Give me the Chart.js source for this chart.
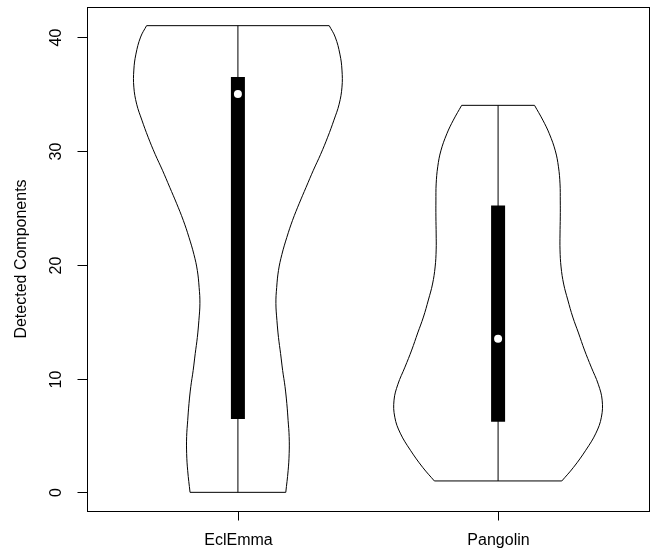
<!DOCTYPE html>
<html>
<head>
<meta charset="utf-8">
<script src="https://cdn.jsdelivr.net/npm/chart.js@4"></script>
<style>
    html, body { margin: 0; padding: 0; background: #fff; }
    canvas { display: block; }
</style>
</head>
<body>
<canvas id="grafico" width="653" height="550"></canvas>
<script>
// Datos (vioplot de R)
const categorias = ["EclEmma", "Pangolin"];
const ticksY = [0, 10, 20, 30, 40];
const tituloY = "Detected Components";

// Perfil de cada violín: valores (de abajo a arriba) y semiancho en unidades del eje x
const valoresEcl = [0, 1.9, 3.4, 4.9, 6.3, 7.8, 9.3, 10.7, 12.2, 13.6, 15.1, 16.6, 18.0, 19.5, 20.9,
                    22.4, 23.9, 25.4, 26.8, 28.3, 29.7, 31.2, 32.7, 34.1, 35.6, 37.1, 38.5, 40.0, 41];
const anchosEcl  = [0.184, 0.193, 0.197, 0.197, 0.193, 0.188, 0.181, 0.172, 0.164, 0.156, 0.150, 0.146, 0.149, 0.156, 0.169,
                    0.188, 0.210, 0.236, 0.262, 0.290, 0.318, 0.345, 0.369, 0.389, 0.400, 0.400, 0.392, 0.374, 0.351];

const valoresPan = [1, 2.2, 3.7, 5.2, 6.6, 8.1, 9.5, 11.0, 12.5, 14.0, 15.4, 16.9, 18.3, 19.8, 21.3,
                    22.7, 24.2, 25.6, 27.1, 28.6, 30.0, 31.5, 32.7, 34];
const anchosPan  = [0.245, 0.290, 0.337, 0.376, 0.397, 0.400, 0.385, 0.358, 0.332, 0.309, 0.287, 0.268, 0.252, 0.242, 0.238,
                    0.238, 0.239, 0.239, 0.238, 0.232, 0.220, 0.197, 0.172, 0.140];

const minimos  = [0, 1];
const maximos  = [41, 34];
const cuartil1 = [6.45, 6.2];
const cuartil3 = [36.5, 25.2];
const medianas = [35, 13.5];

const perfiles = [
    { valores: valoresEcl, anchos: anchosEcl },
    { valores: valoresPan, anchos: anchosPan },
];

const FUENTE = "16px 'Liberation Sans', Arial, Helvetica, sans-serif";

function linea(data, extra) {
    return Object.assign({
        data,
        showLine: true,
        borderColor: "#000",
        borderWidth: 1,
        pointRadius: 0,
        tension: 0,
        fill: false,
    }, extra || {});
}

const datasets = [];
perfiles.forEach((p, i) => {
    const c = i + 1;
    const n = p.valores.length;
    // contorno izquierdo y derecho
    datasets.push(linea(p.valores.map((v, k) => ({ x: c - p.anchos[k], y: v })), { tension: 0.4, order: 3 }));
    datasets.push(linea(p.valores.map((v, k) => ({ x: c + p.anchos[k], y: v })), { tension: 0.4, order: 3 }));
    // tapas
    datasets.push(linea([{ x: c - p.anchos[0], y: p.valores[0] }, { x: c + p.anchos[0], y: p.valores[0] }], { order: 3 }));
    datasets.push(linea([{ x: c - p.anchos[n - 1], y: p.valores[n - 1] }, { x: c + p.anchos[n - 1], y: p.valores[n - 1] }], { order: 3 }));
    // bigote
    datasets.push(linea([{ x: c, y: minimos[i] }, { x: c, y: maximos[i] }], { order: 2 }));
    // caja
    datasets.push(linea([{ x: c, y: cuartil1[i] }, { x: c, y: cuartil3[i] }], { borderWidth: 14, borderCapStyle: "butt", order: 1 }));
    // mediana
    datasets.push({
        data: [{ x: c, y: medianas[i] }],
        showLine: false,
        pointRadius: 4,
        pointBackgroundColor: "#fff",
        pointBorderWidth: 0,
        order: 0,
    });
});

// Ejes al estilo de R: caja completa, marcas hacia fuera, etiquetas paralelas al eje
const ejesR = {
    id: "ejesR",
    afterDraw(chart) {
        const { ctx, chartArea: a, scales: { x, y } } = chart;
        ctx.save();
        ctx.strokeStyle = "#000";
        ctx.fillStyle = "#000";
        ctx.lineWidth = 1;
        ctx.font = FUENTE;

        const L = Math.round(a.left) + 0.5, R = Math.round(a.right) + 0.5;
        const T = Math.round(a.top) + 0.5, B = Math.round(a.bottom) + 0.5;
        ctx.strokeRect(L, T, R - L, B - T);

        ctx.textAlign = "center";
        ctx.textBaseline = "middle";

        ticksY.forEach((t) => {
            const py = Math.round(y.getPixelForValue(t)) + 0.5;
            ctx.beginPath();
            ctx.moveTo(L - 10, py);
            ctx.lineTo(L, py);
            ctx.stroke();
            ctx.save();
            ctx.translate(L - 31, py);
            ctx.rotate(-Math.PI / 2);
            ctx.fillText(String(t), 0, 0);
            ctx.restore();
        });

        categorias.forEach((cat, i) => {
            const px = Math.round(x.getPixelForValue(i + 1)) + 0.5;
            ctx.beginPath();
            ctx.moveTo(px, B);
            ctx.lineTo(px, B + 9);
            ctx.stroke();
            ctx.fillText(cat, px, B + 29);
        });

        ctx.save();
        ctx.translate(22, (a.top + a.bottom) / 2);
        ctx.rotate(-Math.PI / 2);
        ctx.fillText(tituloY, 0, 0);
        ctx.restore();

        ctx.restore();
    },
};

new Chart(document.getElementById("grafico").getContext("2d"), {
    type: "scatter",
    data: { datasets },
    options: {
        responsive: false,
        animation: false,
        layout: { padding: { left: 87, top: 7, right: 4, bottom: 39 } },
        scales: {
            x: { type: "linear", min: 0.42, max: 2.58, display: false },
            y: { type: "linear", min: -1.64, max: 42.64, display: false },
        },
        plugins: {
            legend: { display: false },
            tooltip: { enabled: false },
        },
    },
    plugins: [ejesR],
});
</script>
</body>
</html>
